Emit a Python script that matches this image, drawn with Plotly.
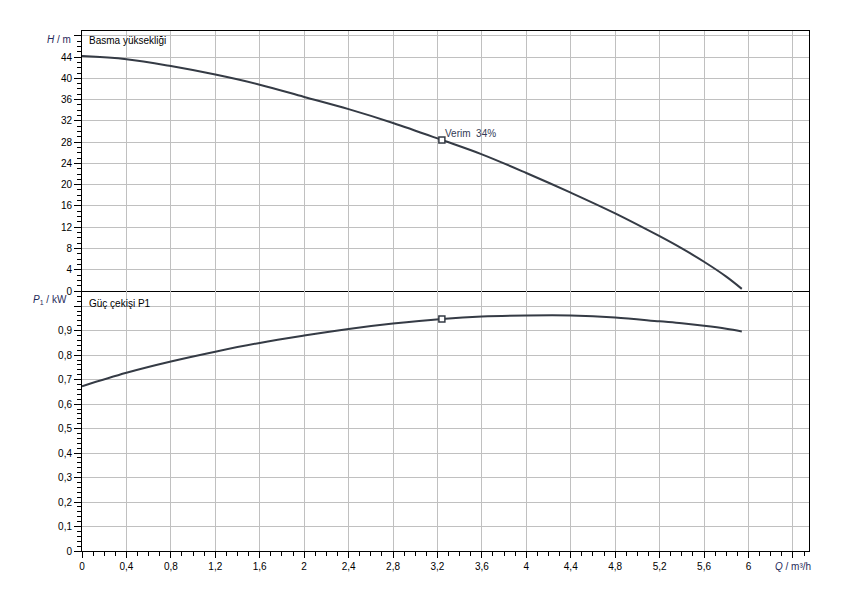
import plotly.graph_objects as go
from plotly.subplots import make_subplots

# ---- data ----
Q = [0, 0.4, 0.8, 1.2, 1.6, 2.0, 2.4, 2.8, 3.24, 3.6, 4.0, 4.4, 4.8, 5.2, 5.4, 5.6, 5.8, 5.94]
H = [44.2, 43.6, 42.3, 40.7, 38.8, 36.5, 34.2, 31.6, 28.4, 25.7, 22.2, 18.5, 14.6, 10.3, 8.0, 5.5, 2.7, 0.4]
P1 = [0.673, 0.728, 0.774, 0.814, 0.850, 0.880, 0.907, 0.929, 0.948, 0.958, 0.962, 0.962,
      0.954, 0.938, 0.930, 0.920, 0.908, 0.897]

Q_op = 3.24
H_op = 28.4
P_op = 0.948
op_label = "Verim\u00a0 34%"

x_ticks = [0, 0.4, 0.8, 1.2, 1.6, 2.0, 2.4, 2.8, 3.2, 3.6, 4.0, 4.4, 4.8, 5.2, 5.6, 6.0, 6.4]
x_text = ["0", "0,4", "0,8", "1,2", "1,6", "2", "2,4", "2,8", "3,2", "3,6", "4", "4,4",
          "4,8", "5,2", "5,6", "6", " "]
h_ticks = [0, 4, 8, 12, 16, 20, 24, 28, 32, 36, 40, 44, 48]
h_text = ["0", "4", "8", "12", "16", "20", "24", "28", "32", "36", "40", "44", " "]
p_ticks = [0, 0.1, 0.2, 0.3, 0.4, 0.5, 0.6, 0.7, 0.8, 0.9, 1.0]
p_text = ["0", "0,1", "0,2", "0,3", "0,4", "0,5", "0,6", "0,7", "0,8", "0,9", " "]

LINE = "#353b45"
GRID = "#c0c0c0"
LBL = "#1f2a5a"
FONT = "Liberation Sans, Arial, sans-serif"

fig = make_subplots(rows=2, cols=1, shared_xaxes=True, vertical_spacing=0)

fig.add_trace(go.Scatter(x=Q, y=H, mode="lines", line=dict(color=LINE, width=2, shape="spline", smoothing=1.0),
                         hoverinfo="skip", showlegend=False), row=1, col=1)
fig.add_trace(go.Scatter(x=Q, y=P1, mode="lines", line=dict(color=LINE, width=2, shape="spline", smoothing=1.0),
                         hoverinfo="skip", showlegend=False), row=2, col=1)
for r, yv in ((1, H_op), (2, P_op)):
    fig.add_trace(go.Scatter(x=[Q_op], y=[yv], mode="markers",
                             marker=dict(symbol="square", size=6, color="white",
                                         line=dict(color=LINE, width=1.5)),
                             hoverinfo="skip", showlegend=False), row=r, col=1)

tickfont = dict(family=FONT, size=10, color="black")
common_x = dict(range=[0, 6.545], tickmode="array", tickvals=x_ticks, showgrid=True, gridcolor=GRID,
                gridwidth=1, showline=True, linecolor="black", linewidth=1,
                zeroline=False, tickfont=tickfont)
fig.update_xaxes(**common_x, ticktext=x_text, ticks="outside", ticklen=6, tickcolor="black", mirror=False,
                 minor=dict(dtick=0.1, tick0=0, ticks="outside", ticklen=4, tickcolor="black", showgrid=False),
                 row=2, col=1)
fig.update_xaxes(**common_x, ticks="", showticklabels=False, mirror=True, row=1, col=1)

common_y = dict(tickmode="array", showgrid=True, gridcolor=GRID, gridwidth=1, showline=True,
                linecolor="black", linewidth=1, mirror=True, zeroline=False, ticks="outside",
                ticklen=7, tickcolor="black", tickfont=tickfont)
fig.update_yaxes(**common_y, range=[0, 48.9], tickvals=h_ticks, ticktext=h_text,
                 minor=dict(dtick=1, tick0=0, ticks="outside", ticklen=4, tickcolor="black", showgrid=False),
                 row=1, col=1)
fig.update_yaxes(**common_y, range=[0, 1.062], tickvals=p_ticks, ticktext=p_text,
                 minor=dict(dtick=0.02, tick0=0, ticks="outside", ticklen=4, tickcolor="black", showgrid=False),
                 row=2, col=1)

afont = dict(family=FONT, size=10, color="black")
lfont = dict(family=FONT, size=10, color=LBL)
fig.add_annotation(text="Basma yüksekliği", xref="x domain", yref="y domain", x=0, y=1,
                   xanchor="left", yanchor="middle", xshift=5, yshift=-9, showarrow=False, font=afont)
fig.add_annotation(text="Güç çekişi P1", xref="x2 domain", yref="y2 domain", x=0, y=1,
                   xanchor="left", yanchor="middle", xshift=5, yshift=-12, showarrow=False, font=afont)
fig.add_annotation(text="<i>H</i> / m", xref="x domain", yref="y domain", x=0, y=1,
                   xanchor="right", yanchor="middle", xshift=-9, yshift=-8, showarrow=False, font=lfont)
fig.add_annotation(text="<i>P</i><sub>1</sub> / kW", xref="x2 domain", yref="y2 domain", x=0, y=1,
                   xanchor="right", yanchor="middle", xshift=-13, yshift=-9, showarrow=False, font=lfont)
fig.add_annotation(text="<i>Q</i> / m³/h", xref="x2", yref="y2 domain", x=6.4, y=0,
                   xanchor="center", yanchor="middle", yshift=-15, showarrow=False, font=lfont)
fig.add_annotation(text=op_label, xref="x", yref="y", x=Q_op, y=H_op,
                   xanchor="left", yanchor="middle", xshift=1, yshift=7, showarrow=False,
                   font=dict(family=FONT, size=10, color="#333a55"))

# the page body adds an 8 px offset; margins compensate for it
fig.update_layout(width=842, height=592, margin=dict(l=74, r=41, t=23, b=49),
                  paper_bgcolor="white", plot_bgcolor="white", showlegend=False)

fig.write_html("out.html")
